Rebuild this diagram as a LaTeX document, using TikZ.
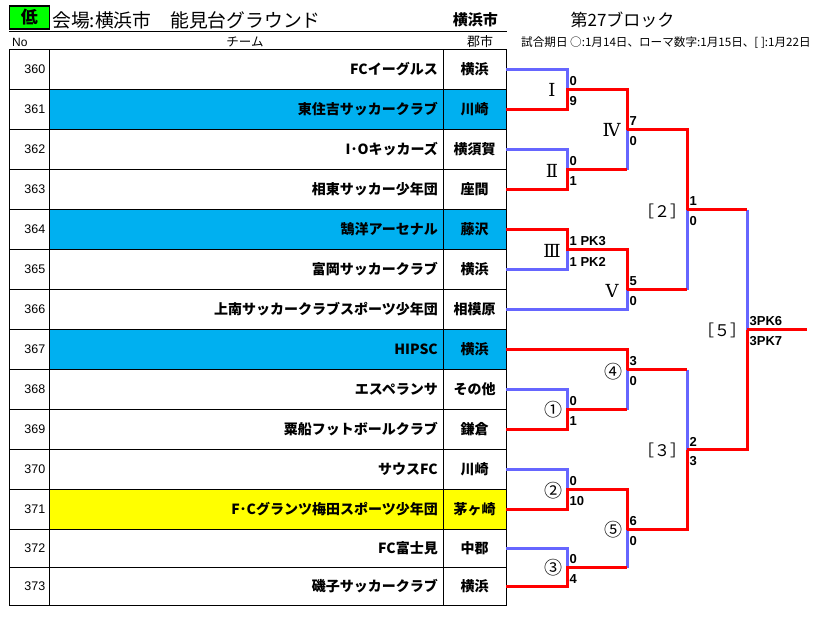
\documentclass[tikz,border=0pt]{standalone}
\usepackage{fontspec}
\newfontfamily\jp{Noto Sans CJK JP}
\newfontfamily\lsans{Liberation Sans}
\newfontfamily\dserif{DejaVu Serif}
\usetikzlibrary{calc}
\definecolor{loseblue}{RGB}{102,102,255}
\definecolor{winred}{RGB}{255,0,0}
\definecolor{cellblue}{RGB}{0,176,240}
\definecolor{cellyellow}{RGB}{255,255,0}
\definecolor{titlegreen}{RGB}{0,255,0}
\tikzset{
  teamtxt/.style={anchor=east, inner sep=0pt, font=\jp\bfseries\fontsize{14}{16}\selectfont},
  citytxt/.style={anchor=center, inner sep=0pt, font=\jp\bfseries\fontsize{14}{16}\selectfont},
  numtxt/.style={anchor=east, inner sep=0pt, font=\lsans\fontsize{12.5}{14}\selectfont},
  scoretxt/.style={anchor=west, inner sep=0pt, font=\lsans\bfseries\fontsize{13}{15}\selectfont},
  romanlbl/.style={inner sep=0pt, font=\dserif\fontsize{18}{20}\selectfont},
  circlbl/.style={inner sep=0pt, font=\jp\fontsize{18}{20}\selectfont},
  brklbl/.style={inner sep=0pt, font=\jp\fontsize{16}{18}\selectfont},
  lose/.style={draw=loseblue, line width=3pt},
  win/.style={draw=winred, line width=3pt},
  grid/.style={draw=black, line width=1pt},
}
\begin{document}
\begin{tikzpicture}[x=1pt,y=-1pt]
\useasboundingbox (0,0) rectangle (819,643);
% ---------- header ----------
\node[draw=black, fill=titlegreen, line width=1.3pt, minimum width=40pt, minimum height=23pt, inner sep=0pt,
      font=\jp\bfseries\fontsize{17}{19}\selectfont] (low) at (29.3,17.5) {低};
\node[anchor=west, inner sep=0pt, font=\jp\fontsize{18.8}{21}\selectfont] (venue) at (52,20) {会場:横浜市　能見台グラウンド};
\node[anchor=east, inner sep=0pt, font=\jp\bfseries\fontsize{15}{17}\selectfont] (vcity) at (498,20) {横浜市};
\draw[grid] (9,31) -- (507,31);
\node[anchor=west, inner sep=0pt, font=\lsans\fontsize{12}{14}\selectfont] (hno) at (12,42.5) {No};
\node[inner sep=0pt, font=\jp\fontsize{12.5}{14}\selectfont] (hteam) at (245,42) {チーム};
\node[inner sep=0pt, font=\jp\fontsize{13}{15}\selectfont] (hcity) at (480,42) {郡市};
\node[inner sep=0pt, font=\jp\fontsize{17}{19}\selectfont] (block) at (622.5,19.5) {第27ブロック};
\node[anchor=west, inner sep=0pt, font=\jp\fontsize{11.6}{13}\selectfont] (dates) at (521,43) {試合期日 ○:1月14日、ローマ数字:1月15日、[ ]:1月22日};
% ---------- table fills ----------
\fill[cellblue] (49,89.5) rectangle (506,129.5);
\fill[cellblue] (49,209.5) rectangle (506,249.5);
\fill[cellblue] (49,329.5) rectangle (506,369.5);
\fill[cellyellow] (49,489.5) rectangle (506,529.5);
% ---------- table grid ----------
\draw[grid] (9,49.5) rectangle (506,605.5);
\draw[grid] (49,49.5) -- (49,605.5);
\draw[grid] (443,49.5) -- (443,605.5);
\foreach \yy in {89.5,129.5,169.5,209.5,249.5,289.5,329.5,369.5,409.5,449.5,489.5,529.5,567.5}
  \draw[grid] (9,\yy) -- (506,\yy);
% ---------- table texts ----------
\foreach \i/\yy/\no/\team/\city in {
  0/69.5/360/FCイーグルス/横浜,
  1/109.5/361/東住吉サッカークラブ/川崎,
  2/149.5/362/I･Oキッカーズ/横須賀,
  3/189.5/363/相東サッカー少年団/座間,
  4/229.5/364/鵠洋アーセナル/藤沢,
  5/269.5/365/富岡サッカークラブ/横浜,
  6/309.5/366/上南サッカークラブスポーツ少年団/相模原,
  7/349.5/367/HIPSC/横浜,
  8/389.5/368/エスペランサ/その他,
  9/429.5/369/粟船フットボールクラブ/鎌倉,
  10/469.5/370/サウスFC/川崎,
  11/509.5/371/F･Cグランツ梅田スポーツ少年団/茅ヶ崎,
  12/548.5/372/FC富士見/中郡,
  13/586.5/373/磯子サッカークラブ/横浜}
{
  \node[numtxt] (no\i) at (45.5,\yy) {\no};
  \node[teamtxt] (tm\i) at (438,\yy) {\team};
  \node[citytxt] (ct\i) at (474.5,\yy) {\city};
  \coordinate (t\i) at (506,\yy);
}
% ---------- bracket junctions ----------
\coordinate (m1) at (567,89.5);
\coordinate (m2) at (567,169.5);
\coordinate (m3) at (567,249.5);
\coordinate (mA) at (567,409.5);
\coordinate (mB) at (567,489.5);
\coordinate (mC) at (567,567.5);
\coordinate (m4) at (627,129.5);
\coordinate (m5) at (627,289.5);
\coordinate (mD) at (627,369.5);
\coordinate (mE) at (627,529.5);
\coordinate (s2) at (687,209.5);
\coordinate (s3) at (687,449.5);
\coordinate (f5) at (747,329.5);
\coordinate (out) at (807,329.5);
% ---------- losing lines (blue) ----------
\draw[lose] (t0) -| (m1);
\draw[lose] (t2) -| (m2);
\draw[lose] (m2 -| m4) -- (m4);
\draw[lose] (t5) -| (m3);
\draw[lose] (t6) -| (m5);
\draw[lose] (m5 -| s2) -- (s2);
\draw[lose] (s2 -| f5) -- (f5);
\draw[lose] (t8) -| (mA);
\draw[lose] (mA -| mD) -- (mD);
\draw[lose] (mD -| s3) -- (s3);
\draw[lose] (t10) -| (mB);
\draw[lose] (t12) -| (mC);
\draw[lose] (mC -| mE) -- (mE);
% ---------- winning lines (red) ----------
\draw[win] (t1) -| (m1) -| (m4);
\draw[win] (t3) -| (m2) -- (m2 -| m4);
\draw[win] (m4) -| (s2);
\draw[win] (t4) -| (m3) -| (m5);
\draw[win] (m5) -- (m5 -| s2);
\draw[win] (s2) -- (s2 -| f5);
\draw[win] (t7) -| (mD);
\draw[win] (t9) -| (mA) -- (mA -| mD);
\draw[win] (mD) -- (mD -| s3);
\draw[win] (t11) -| (mB) -| (mE);
\draw[win] (t13) -| (mC) -- (mC -| mE);
\draw[win] (mE) -| (s3);
\draw[win] (s3) -| (f5);
\draw[win] (f5) -- (out);
% ---------- scores ----------
\foreach \m/\a/\b in {m1/0/9, m2/0/1, m3/1 PK3/1 PK2, mA/0/1, mB/0/10, mC/0/4,
                      m4/7/0, m5/5/0, mD/3/0, mE/6/0, s2/1/0, s3/2/3, f5/3PK6/3PK7}
{
  \node[scoretxt] (sa\m) at ($(\m)+(2.5,-8)$) {\a};
  \node[scoretxt] (sb\m) at ($(\m)+(2.5,12)$) {\b};
}
% ---------- round labels ----------
\node[romanlbl] (r1) at ($(m1)+(-15,0.5)$) {Ⅰ};
\node[romanlbl] (r2) at ($(m2)+(-15,1)$) {Ⅱ};
\node[romanlbl] (r3) at ($(m3)+(-15,1)$) {Ⅲ};
\node[romanlbl] (r4) at ($(m4)+(-15.5,0.5)$) {Ⅳ};
\node[romanlbl] (r5) at ($(m5)+(-15,1)$) {Ⅴ};
\node[circlbl] (c1) at ($(mA)+(-14,0.5)$) {①};
\node[circlbl] (c2) at ($(mB)+(-14,1)$) {②};
\node[circlbl] (c3) at ($(mC)+(-14,0.5)$) {③};
\node[circlbl] (c4) at ($(mD)+(-14,2)$) {④};
\node[circlbl] (c5) at ($(mE)+(-14,0)$) {⑤};
\node[brklbl] (b2) at ($(s2)+(-25,1.5)$) {［２］};
\node[brklbl] (b3) at ($(s3)+(-25,0.5)$) {［３］};
\node[brklbl] (b5) at ($(f5)+(-25,0.5)$) {［５］};
\end{tikzpicture}
\end{document}
